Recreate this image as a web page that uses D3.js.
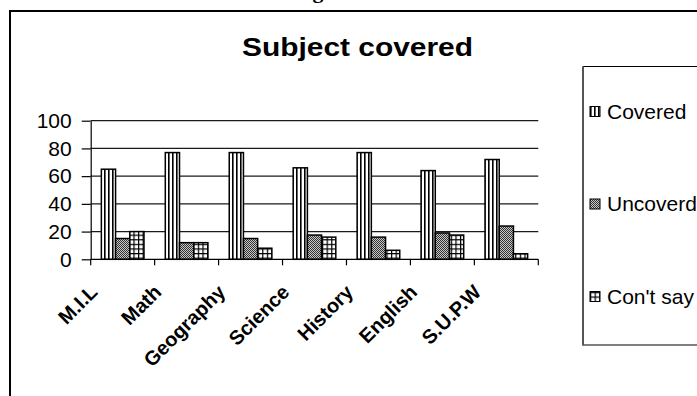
<!DOCTYPE html>
<html>
<head>
<meta charset="utf-8">
<script src="https://cdn.jsdelivr.net/npm/d3@7"></script>
<style>
  html, body { margin: 0; padding: 0; background: #fff; }
  svg { display: block; font-family: "Liberation Sans", Arial, sans-serif; }
</style>
</head>
<body>
<svg id="chart" width="697" height="396"></svg>
<script>
// Survey results: share of respondents per subject
const subjects = ["M.I.L", "Math", "Geography", "Science", "History", "English", "S.U.P.W"];
const covered   = [65, 77, 77, 66, 77, 64, 72];
const uncovered = [15, 12, 15, 17.5, 16, 19, 24];
const cantSay   = [20, 12, 8, 16, 6.5, 17.5, 4];
const seriesNames = ["Covered", "Uncoverd", "Con't say"];
const yTicks = [0, 20, 40, 60, 80, 100];

const series = [covered, uncovered, cantSay];
const patternIds = ["pat-stripes", "pat-dots", "pat-grid"];

const svg = d3.select("#chart");
const defs = svg.append("defs");

// vertical stripes
const p1 = defs.append("pattern").attr("id", "pat-stripes")
  .attr("patternUnits", "userSpaceOnUse").attr("width", 4).attr("height", 4);
p1.append("rect").attr("width", 4).attr("height", 4).attr("fill", "#fff");
p1.append("rect").attr("x", 0).attr("width", 1.6).attr("height", 4).attr("fill", "#000");

// fine dotted grey
const p2 = defs.append("pattern").attr("id", "pat-dots")
  .attr("patternUnits", "userSpaceOnUse").attr("width", 2).attr("height", 2);
p2.append("rect").attr("width", 2).attr("height", 2).attr("fill", "#c8c8c8");
p2.append("rect").attr("x", 0).attr("y", 0).attr("width", 1).attr("height", 1).attr("fill", "#333");
p2.append("rect").attr("x", 1).attr("y", 1).attr("width", 1).attr("height", 1).attr("fill", "#333");

// small squares
const p3 = defs.append("pattern").attr("id", "pat-grid")
  .attr("patternUnits", "userSpaceOnUse").attr("width", 4.6).attr("height", 4.6);
p3.append("rect").attr("width", 4.6).attr("height", 4.6).attr("fill", "#fff");
p3.append("rect").attr("x", 0).attr("width", 1.2).attr("height", 4.6).attr("fill", "#000");
p3.append("rect").attr("y", 0).attr("width", 4.6).attr("height", 1.2).attr("fill", "#000");

// heading fragment above the frame (only its descender shows)
svg.append("text").attr("x", 318).attr("y", -2)
  .attr("text-anchor", "middle")
  .style("font-family", "'Liberation Serif', 'Times New Roman', serif")
  .style("font-weight", "bold").style("font-size", "22px")
  .text("g");

// outer chart frame (continues past the right and bottom edges)
svg.append("path")
  .attr("d", "M10,400 L10,11 L700,11")
  .attr("fill", "none").attr("stroke", "#000").attr("stroke-width", 2);

// title
svg.append("text")
  .attr("x", 242).attr("y", 56)
  .attr("textLength", 231).attr("lengthAdjust", "spacingAndGlyphs")
  .style("font-weight", "bold").style("font-size", "25px")
  .text("Subject covered");

const x = d3.scaleBand().domain(subjects).range([90.7, 538.3]).paddingInner(0).paddingOuter(0);
const y = d3.scaleLinear().domain([0, 100]).range([259.3, 120.7]);
const bw = x.bandwidth() / 4.5;   // bar width with 150% gap
const offset = bw * 0.75;

// gridlines
svg.append("g").selectAll("line").data(yTicks.filter(d => d > 0)).join("line")
  .attr("x1", x.range()[0]).attr("x2", x.range()[1])
  .attr("y1", d => y(d)).attr("y2", d => y(d))
  .attr("stroke", "#1a1a1a").attr("stroke-width", 1.2);

// y axis
const yAxis = svg.append("g").attr("transform", `translate(${x.range()[0]},0)`)
  .call(d3.axisLeft(y).tickValues(yTicks).tickSize(9).tickPadding(10).tickSizeOuter(0));
yAxis.select(".domain").attr("stroke", "#000").attr("stroke-width", 1.2);
yAxis.selectAll(".tick line").attr("stroke", "#000").attr("stroke-width", 1.2);
yAxis.selectAll(".tick text").style("font-size", "21px").style("font-family", "'Liberation Sans', Arial, sans-serif").attr("fill", "#000");

// bars
series.forEach((vals, si) => {
  svg.append("g").selectAll("rect").data(subjects).join("rect")
    .attr("x", d => x(d) + offset + si * bw)
    .attr("width", bw)
    .attr("y", (d, i) => y(vals[i]))
    .attr("height", (d, i) => y(0) - y(vals[i]))
    .attr("fill", `url(#${patternIds[si]})`)
    .attr("stroke", "#000").attr("stroke-width", 1.5);
});

// x axis with ticks at category boundaries
const xAxisG = svg.append("g").attr("transform", `translate(0,${y(0)})`);
xAxisG.append("line").attr("x1", x.range()[0]).attr("x2", x.range()[1])
  .attr("stroke", "#000").attr("stroke-width", 1.2);
const bounds = subjects.map(d => x(d)).concat([x.range()[1]]);
xAxisG.selectAll("line.tk").data(bounds).join("line").attr("class", "tk")
  .attr("x1", d => d).attr("x2", d => d).attr("y1", 0).attr("y2", 6)
  .attr("stroke", "#000").attr("stroke-width", 1.2);

// rotated category labels
svg.append("g").selectAll("text").data(subjects).join("text")
  .attr("transform", d => `translate(${x(d) + x.bandwidth() / 2 - 24},${y(0) + 34}) rotate(-45)`)
  .attr("text-anchor", "end")
  .style("font-weight", "bold").style("font-size", "20px")
  .text(d => d);

// legend
svg.append("path")
  .attr("d", "M700,66.5 L583,66.5 L583,345 L700,345")
  .attr("fill", "#fff").attr("stroke", "#000").attr("stroke-width", 1);
svg.append("line").attr("x1", 583).attr("x2", 583).attr("y1", 66.5).attr("y2", 345.5)
  .attr("stroke", "#555").attr("stroke-width", 2);

const legendY = [111.5, 204, 296.5];
const lg = svg.append("g").selectAll("g").data(seriesNames).join("g")
  .attr("transform", (d, i) => `translate(590,${legendY[i]})`);
lg.append("rect").attr("x", 0).attr("y", -5).attr("width", 10).attr("height", 10)
  .attr("fill", (d, i) => `url(#${patternIds[i]})`)
  .attr("stroke", "#000").attr("stroke-width", 1);
lg.append("text").attr("x", 17).attr("y", 0).attr("dy", "0.35em")
  .style("font-size", "21px")
  .text(d => d);
</script>
</body>
</html>
